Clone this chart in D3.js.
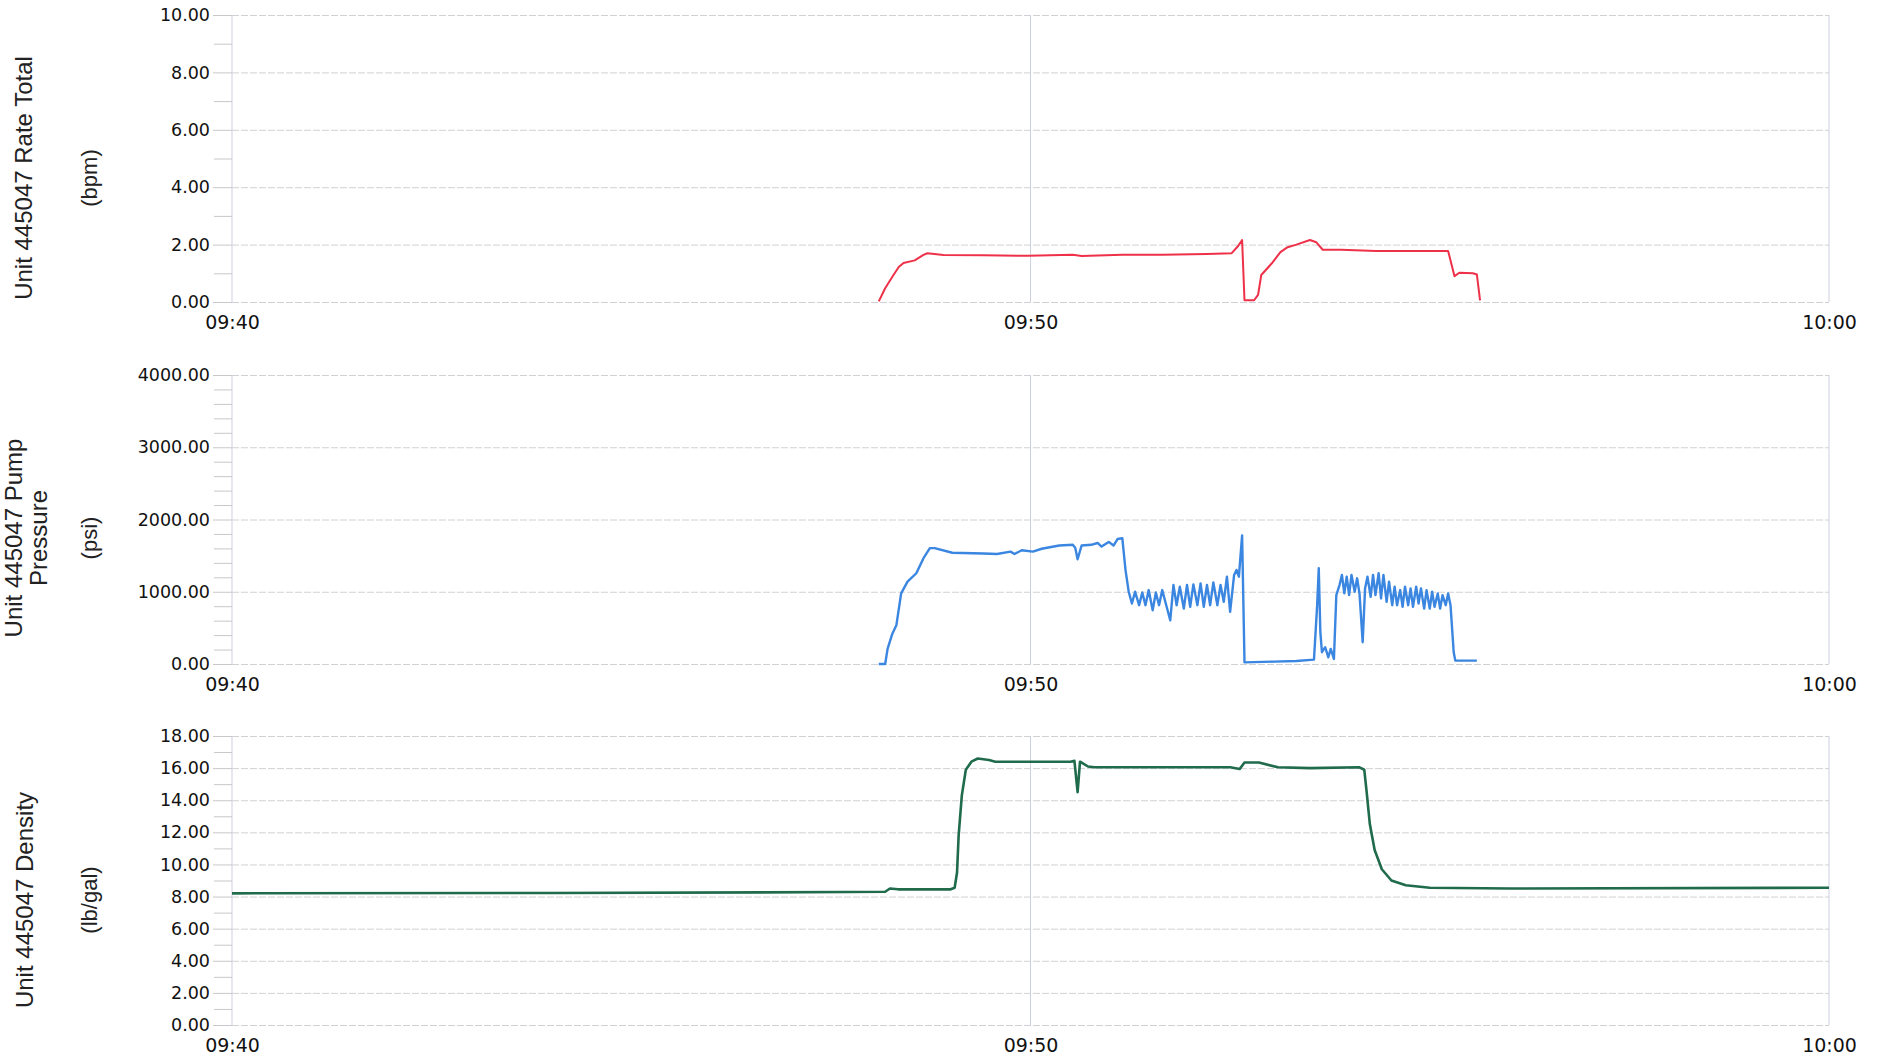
<!DOCTYPE html>
<html lang="en">
<head>
<meta charset="UTF-8">
<title>Unit 445047 charts</title>
<script src="https://d3js.org/d3.v7.min.js"></script>
<style>
    body { margin: 0; background: #fff; }
    svg { display: block; }
    .tick text { font-family: "DejaVu Sans", sans-serif; fill: #111; }
    .title { font-family: "Liberation Sans", Arial, sans-serif; fill: #222; }
</style>
</head>
<body>
<div id="chart"></div>
<script>
// minutes after 09:40, value
const rateData = [
    [8.10, 0.02], [8.18, 0.48], [8.27, 0.88], [8.35, 1.22], [8.41, 1.36], [8.55, 1.45],
    [8.66, 1.64], [8.71, 1.70], [8.91, 1.64], [9.41, 1.63], [9.97, 1.61], [10.53, 1.65],
    [10.64, 1.60], [11.15, 1.65], [11.65, 1.65], [12.21, 1.67], [12.52, 1.70], [12.60, 1.95],
    [12.65, 2.16], [12.68, 0.06], [12.80, 0.06], [12.85, 0.25], [12.89, 0.94], [13.02, 1.34],
    [13.13, 1.74], [13.22, 1.91], [13.33, 2.00], [13.50, 2.16], [13.58, 2.08], [13.66, 1.82],
    [13.89, 1.82], [14.33, 1.78], [15.23, 1.78], [15.31, 0.90], [15.37, 1.02], [15.54, 1.00],
    [15.59, 0.96], [15.63, 0.06]
];

const pressureData = [
    [8.10, 0], [8.18, 0], [8.21, 209], [8.27, 419], [8.32, 535], [8.38, 977], [8.46, 1140],
    [8.57, 1256], [8.66, 1465], [8.74, 1604], [8.80, 1604], [9.02, 1540], [9.41, 1530],
    [9.58, 1522], [9.75, 1555], [9.80, 1522], [9.89, 1575], [10.03, 1555], [10.14, 1595],
    [10.36, 1640], [10.53, 1650], [10.56, 1610], [10.59, 1450], [10.64, 1640], [10.76, 1650],
    [10.84, 1675], [10.89, 1625], [10.98, 1690], [11.04, 1640], [11.09, 1730], [11.15, 1740],
    [11.19, 1300], [11.23, 1000], [11.27, 837], [11.31, 1000], [11.36, 814], [11.40, 990],
    [11.44, 814], [11.48, 1023], [11.53, 744], [11.57, 990], [11.61, 814], [11.65, 1023],
    [11.70, 814], [11.75, 605], [11.79, 1093], [11.83, 814], [11.87, 1070], [11.92, 767],
    [11.96, 1093], [12.00, 791], [12.04, 1102], [12.09, 814], [12.13, 1116], [12.17, 791],
    [12.21, 1093], [12.25, 814], [12.29, 1130], [12.34, 814], [12.38, 1093], [12.42, 860],
    [12.46, 1209], [12.50, 721], [12.55, 1232], [12.58, 1302], [12.61, 1209], [12.65, 1780],
    [12.68, 23], [13.05, 33], [13.33, 42], [13.55, 60], [13.59, 814], [13.61, 1325],
    [13.63, 442], [13.65, 163], [13.69, 233], [13.73, 93], [13.76, 209], [13.80, 70],
    [13.83, 953], [13.87, 1093], [13.90, 1232], [13.93, 977], [13.96, 1209], [13.99, 953],
    [14.02, 1232], [14.06, 1000], [14.09, 1186], [14.12, 977], [14.16, 302], [14.19, 1046],
    [14.22, 1209], [14.26, 930], [14.29, 1232], [14.32, 953], [14.36, 1256], [14.39, 907],
    [14.42, 1232], [14.46, 860], [14.49, 1139], [14.53, 814], [14.56, 1070], [14.59, 814],
    [14.63, 1023], [14.66, 791], [14.69, 1070], [14.73, 814], [14.76, 1046], [14.79, 791],
    [14.83, 1070], [14.86, 837], [14.89, 1046], [14.93, 767], [14.96, 1023], [15.00, 767],
    [15.03, 1000], [15.06, 791], [15.10, 977], [15.13, 767], [15.16, 953], [15.20, 814],
    [15.23, 977], [15.26, 814], [15.30, 163], [15.32, 47], [15.59, 47]
];

const densityData = [
    [0, 8.2], [4, 8.22], [7.7, 8.28], [8.18, 8.3], [8.24, 8.5], [8.34, 8.45], [9.0, 8.45],
    [9.05, 8.55], [9.08, 9.5], [9.10, 11.8], [9.14, 14.3], [9.19, 15.9], [9.26, 16.4],
    [9.34, 16.6], [9.48, 16.5], [9.56, 16.4], [10.1, 16.4], [10.5, 16.4], [10.55, 16.45],
    [10.59, 14.5], [10.62, 16.4], [10.72, 16.1], [10.8, 16.05], [12.5, 16.05], [12.62, 15.95],
    [12.68, 16.35], [12.86, 16.35], [13.1, 16.05], [13.5, 16.0], [14.12, 16.05], [14.18, 15.9],
    [14.21, 14.5], [14.25, 12.5], [14.31, 10.9], [14.40, 9.7], [14.52, 9.0], [14.7, 8.7],
    [15.0, 8.55], [16, 8.5], [20, 8.55]
];

const rateTicks = [0, 2, 4, 6, 8, 10];
const pressureTicks = [0, 1000, 2000, 3000, 4000];
const densityTicks = [0, 2, 4, 6, 8, 10, 12, 14, 16, 18];
const timeTicks = [0, 10, 20];

const width = 1877, height = 1057;
const left = 232, right = 1829;

const t0 = new Date(2013, 0, 1, 9, 40);
const toDate = m => new Date(+t0 + m * 60000);

const x = d3.scaleTime()
    .domain([toDate(0), toDate(20)])
    .range([left, right]);

const panels = [
    { top: 15, bottom: 302, max: 10, ticks: rateTicks, minorStep: 1, data: rateData, color: "#ee3148", lw: 2,
      titles: [{ text: "Unit 445047 Rate Total", x: 23 }], unit: "(bpm)", cy: 178 },
    { top: 375, bottom: 664, max: 4000, ticks: pressureTicks, minorStep: 200, data: pressureData, color: "#3a86e0", lw: 2.4,
      titles: [{ text: "Unit 445047 Pump", x: 13 }, { text: "Pressure", x: 38 }], unit: "(psi)", cy: 538 },
    { top: 736, bottom: 1025, max: 18, ticks: densityTicks, minorStep: 1, data: densityData, color: "#1f6b4c", lw: 2.6,
      titles: [{ text: "Unit 445047 Density", x: 24 }], unit: "(lb/gal)", cy: 900 }
];

const svg = d3.select("#chart").append("svg")
    .attr("width", width)
    .attr("height", height);

panels.forEach(p => {
    const y = d3.scaleLinear().domain([0, p.max]).range([p.bottom, p.top]);
    const g = svg.append("g");

    // horizontal grid
    g.append("g")
        .attr("transform", `translate(${left},0)`)
        .call(d3.axisLeft(y).tickValues(p.ticks).tickSize(-(right - left)).tickFormat(""))
        .call(a => a.select(".domain").remove())
        .call(a => a.selectAll("line").attr("stroke", "#d2d2d6").attr("stroke-dasharray", "7,2"));

    // vertical lines at 09:40, 09:50, 10:00
    g.selectAll(".vline")
        .data(timeTicks)
        .join("line")
        .attr("x1", d => x(toDate(d)))
        .attr("x2", d => x(toDate(d)))
        .attr("y1", p.top)
        .attr("y2", p.bottom)
        .attr("stroke", "#cdd0e0")
        .attr("stroke-width", 1);

    // minor ticks
    const minor = d3.range(0, p.max + 1e-9, p.minorStep).filter(v => !p.ticks.includes(v));
    g.append("g")
        .attr("transform", `translate(${left},0)`)
        .call(d3.axisLeft(y).tickValues(minor).tickSize(18).tickFormat(""))
        .call(a => a.select(".domain").remove())
        .call(a => a.selectAll("line").attr("stroke", "#c8c8cc"));

    // major ticks and labels
    g.append("g")
        .attr("transform", `translate(${left},0)`)
        .call(d3.axisLeft(y).tickValues(p.ticks).tickSize(19).tickPadding(3).tickFormat(d3.format(".2f")))
        .call(a => a.select(".domain").remove())
        .call(a => a.selectAll("line").attr("stroke", "#c8c8cc"))
        .call(a => a.selectAll("text").style("font-size", "17.5px"));

    // x axis labels
    g.append("g")
        .attr("transform", `translate(0,${p.bottom})`)
        .call(d3.axisBottom(x).tickValues(timeTicks.map(toDate)).tickSize(0).tickPadding(14)
            .tickFormat(d3.timeFormat("%H:%M")))
        .call(a => a.select(".domain").remove())
        .call(a => a.selectAll("text").style("font-size", "19px"));

    // series line
    const line = d3.line()
        .x(d => x(toDate(d[0])))
        .y(d => y(d[1]));

    g.append("path")
        .datum(p.data)
        .attr("fill", "none")
        .attr("stroke", p.color)
        .attr("stroke-width", p.lw)
        .attr("stroke-linejoin", "round")
        .attr("d", line);

    // titles
    p.titles.forEach(t => {
        g.append("text")
            .attr("class", "title")
            .attr("transform", `translate(${t.x},${p.cy}) rotate(-90)`)
            .attr("text-anchor", "middle")
            .attr("dominant-baseline", "central")
            .style("font-size", "24px")
            .text(t.text);
    });
    g.append("text")
        .attr("class", "title")
        .attr("transform", `translate(89,${p.cy}) rotate(-90)`)
        .attr("text-anchor", "middle")
        .attr("dominant-baseline", "central")
        .style("font-size", "22px")
        .text(p.unit);
});
</script>
</body>
</html>
